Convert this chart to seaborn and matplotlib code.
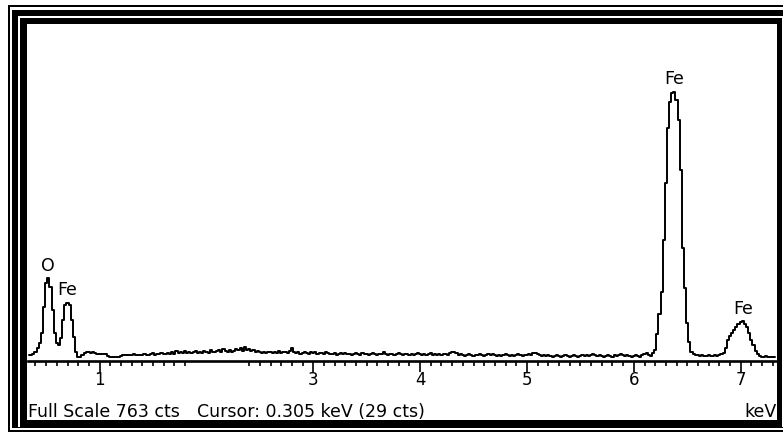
import numpy as np
import pandas as pd
import matplotlib
matplotlib.use("Agg")
import matplotlib.pyplot as plt
from matplotlib.patches import Rectangle
from matplotlib.ticker import FixedLocator, NullFormatter
import seaborn as sns

W, H = 783, 434

# EDS spectrum: counts per 20 eV channel, first channel centred at 0.34 keV
first_channel_kev = 0.34
channel_width_kev = 0.02
counts = [
    6, 6, 8, 13, 22, 34, 57, 116, 171, 182,         # 0.34
    162, 109, 57, 34, 29, 45, 86, 121, 125, 121,    # 0.54
    86, 48, 13, 2, 1, 6, 12, 13, 13, 12,            # 0.74
    13, 11, 9, 9, 8, 9, 9, 4, 2, 2,                 # 0.94
    2, 2, 1, 4, 6, 6, 7, 6, 6, 8,                   # 1.14
    6, 7, 7, 6, 9, 7, 7, 8, 11, 7,                  # 1.34
    9, 9, 11, 9, 8, 11, 9, 13, 9, 16,               # 1.54
    11, 13, 11, 16, 11, 13, 11, 13, 16, 11,         # 1.74
    13, 11, 16, 13, 11, 18, 13, 13, 16, 18,         # 1.94
    13, 20, 16, 13, 18, 13, 16, 20, 18, 22,         # 2.14
    16, 25, 18, 20, 16, 18, 13, 16, 13, 11,         # 2.34
    13, 11, 13, 13, 11, 13, 11, 16, 11, 13,         # 2.54
    13, 11, 16, 22, 13, 11, 13, 9, 11, 13,          # 2.74
    11, 9, 13, 11, 13, 9, 11, 11, 9, 13,            # 2.94
    11, 9, 9, 11, 6, 9, 11, 9, 11, 9,               # 3.14
    9, 6, 9, 11, 9, 6, 11, 9, 9, 6,                 # 3.34
    9, 11, 9, 6, 9, 9, 13, 9, 6, 9,                 # 3.54
    9, 6, 9, 11, 9, 6, 9, 9, 6, 9,                  # 3.74
    6, 9, 11, 9, 6, 9, 6, 9, 11, 6,                 # 3.94
    9, 6, 9, 6, 9, 9, 6, 11, 13, 13,                # 4.14
    11, 6, 9, 6, 4, 6, 9, 6, 4, 6,                  # 4.34
    6, 9, 6, 4, 6, 9, 6, 9, 6, 4,                   # 4.54
    6, 4, 6, 9, 6, 4, 6, 4, 6, 9,                   # 4.74
    6, 4, 6, 6, 9, 6, 11, 11, 9, 6,                 # 4.94
    4, 6, 4, 6, 4, 2, 4, 6, 4, 2,                   # 5.14
    4, 6, 4, 2, 4, 6, 4, 2, 4, 6,                   # 5.34
    4, 6, 4, 6, 9, 6, 4, 6, 4, 2,                   # 5.54
    4, 6, 4, 2, 6, 4, 6, 9, 6, 4,                   # 5.74
    6, 4, 2, 4, 6, 4, 2, 6, 9, 11,                  # 5.94
    6, 4, 10, 18, 55, 100, 150, 270, 400, 525,      # 6.14
    585, 605, 608, 590, 544, 430, 250, 160, 80, 35, # 6.34
    13, 8, 6, 6, 4, 6, 4, 4, 6, 4,                  # 6.54
    4, 6, 4, 6, 8, 12, 22, 41, 50, 57,              # 6.74
    64, 70, 78, 82, 83, 78, 70, 57, 40, 30,         # 6.94
    15, 8, 3, 2, 2, 3, 2, 2, 2, 2,                  # 7.14
]

# element lines marked on the spectrum
peak_names = ["O", "Fe", "Fe", "Fe"]
peak_kev = [0.52, 0.70, 6.38, 7.02]

major_ticks = [1, 3, 4, 5, 6, 7]
major_labels = ["1", "3", "4", "5", "6", "7"]

full_scale_cts = 763
cursor_kev = 0.305
cursor_cts = 29

energy = np.round(first_channel_kev + channel_width_kev * np.arange(len(counts)), 2)
df = pd.DataFrame({"keV": energy, "cts": counts})

sns.set_theme(style="white")
plt.rcParams["font.family"] = ["DejaVu Sans"]

fig = plt.figure(figsize=(W / 100, H / 100), dpi=100)
fig.patch.set_facecolor("white")


def box(l, t, r, b, color, z):
    """Filled rectangle given in pixel edges measured from the top-left."""
    fig.add_artist(Rectangle((l / W, 1 - b / H), (r - l) / W, (b - t) / H,
                             transform=fig.transFigure, facecolor=color,
                             edgecolor="none", zorder=z))


# window frame: thin outer rule, thick middle band, thick inner border
box(8, 5, 800, 432, "black", -10)
box(10, 7, 800, 430, "white", -9)
box(12, 10, 800, 428, "black", -8)
box(18, 16, 800, 427, "white", -7)
box(20, 18, 782, 427, "black", -6)
box(27, 24, 777, 420, "white", -5)

ax = fig.add_axes([28 / W, 1 - 361 / H, (777 - 28) / W, (361 - 24) / H])
ax.set_facecolor("none")

sns.lineplot(data=df, x="keV", y="cts", ax=ax, color="black", lw=1.4,
             drawstyle="steps-mid", estimator=None, legend=False)

ax.set_xlim(0.33, 7.34)
ax.set_ylim(-7.3, full_scale_cts)

for side in ("left", "top", "right"):
    ax.spines[side].set_visible(False)
ax.spines["bottom"].set_linewidth(1.9)
ax.spines["bottom"].set_color("black")

minor_ticks = [round(v, 1) for v in np.arange(0.4, 7.35, 0.1)
               if not (1.85 < v < 2.35) and abs(v - round(v)) > 1e-6]
ax.xaxis.set_major_locator(FixedLocator(major_ticks))
ax.set_xticklabels(major_labels)
ax.xaxis.set_minor_locator(FixedLocator(minor_ticks))
ax.xaxis.set_minor_formatter(NullFormatter())
ax.set_yticks([])
ax.tick_params(axis="x", which="both", bottom=True, direction="out",
               color="black", width=1.2)
ax.tick_params(axis="x", which="major", length=8, pad=-1, labelsize=12,
               labelcolor="black")
ax.tick_params(axis="x", which="minor", length=3.8)
ax.set_xlabel("")
ax.set_ylabel("")

# element labels above the top of each peak
for name, e in zip(peak_names, peak_kev):
    win = df[(df["keV"] > e - 0.07) & (df["keV"] < e + 0.07)]
    top = win.loc[win["cts"].idxmax()]
    ax.annotate(name, (top["keV"], top["cts"]), xytext=(0, 5.5),
                textcoords="offset points", ha="center", va="baseline",
                fontsize=12.5, color="black")

# status line
fig.text(28 / W, 1 - 417 / H, f"Full Scale {full_scale_cts} cts",
         ha="left", va="baseline", fontsize=12.5, color="black")
fig.text(197 / W, 1 - 417 / H,
         f"Cursor: {cursor_kev:.3f} keV ({cursor_cts} cts)",
         ha="left", va="baseline", fontsize=12.5, color="black")
fig.text(777 / W, 1 - 417 / H, "keV", ha="right", va="baseline",
         fontsize=12.5, color="black")

fig.savefig("out.png", dpi=100)
